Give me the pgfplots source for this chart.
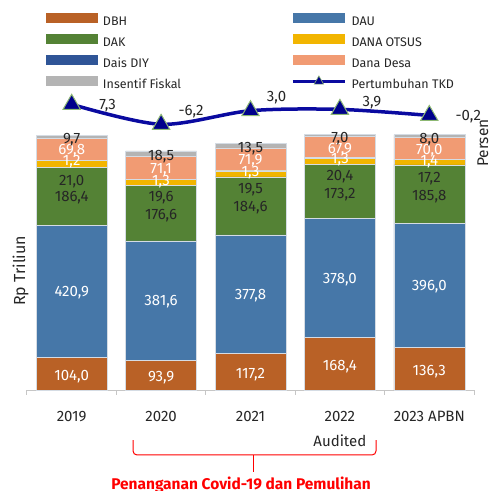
\documentclass[border=0pt]{standalone}
\usepackage{fontspec}
\setmainfont{Fira Sans}
\usepackage{pgfplots}
\pgfplotsset{compat=1.18}
\definecolor{cDBH}{HTML}{B96126}
\definecolor{cDAU}{HTML}{4677A8}
\definecolor{cDAK}{HTML}{548235}
\definecolor{cOTS}{HTML}{F2B500}
\definecolor{cDAIS}{HTML}{2F5597}
\definecolor{cDESA}{HTML}{F19B73}
\definecolor{cINS}{HTML}{B4B4B4}
\definecolor{lineblue}{HTML}{0A0AA0}
\definecolor{mblue}{HTML}{00008B}
\definecolor{medge}{HTML}{8DB873}
\definecolor{txt}{HTML}{262626}
\definecolor{edgec}{HTML}{D5DCE4}
\newcommand\fs[1]{\fontsize{#1}{#1}\selectfont}
\pgfplotsset{
  barleg/.style={legend image code/.code={\fill[##1,draw=none] (0pt,-0.5pt) rectangle (52pt,9.5pt);}},
  tkdleg/.style={legend image code/.code={%
    \draw[lineblue, line width=3.5pt] (0pt,4.5pt) -- (52pt,4.5pt);
    \filldraw[fill=mblue, draw=medge, line width=0.6pt]
      ([shift={(90:5.5pt)}]26pt,4.5pt) -- ([shift={(210:5.5pt)}]26pt,4.5pt) -- ([shift={(330:5.5pt)}]26pt,4.5pt) -- cycle;}},
  frame/.style={at={(0pt,0pt)}, anchor=south west, scale only axis,
    width=447pt, height=382pt, xmin=-0.5, xmax=4.5},
}
\tikzset{
  lbl/.style={font=\fs{15}, inner sep=0pt, text depth=0pt, anchor=center},
  wl/.style={lbl, text=white},
  bl/.style={lbl, text=txt},
}
\begin{document}
\begin{tikzpicture}
\path[use as bounding box] (-27pt,-100pt) rectangle (465pt,390pt);
\begin{axis}[
  frame, ymin=0, ymax=1218.5,
  ybar stacked, bar width=71pt,
  axis y line=none, axis x line*=bottom,
  x axis line style={draw=gray!45, line width=1pt},
  xtick={0,1,2,3,4},
  xticklabels={2019,2020,2021,2022,2023 APBN},
  major tick length=0pt,
  minor xtick={-0.5,0.5,1.5,2.5,3.5,4.5},
  minor tick length=4.5pt, tick align=outside,
  tick style={draw=gray!45, line width=1pt},
  xticklabel style={font=\fs{15}, text=txt, anchor=center, inner sep=0pt, text depth=0pt, yshift=-26pt},
  clip=false,
  every axis plot/.append style={draw=edgec, line width=0.6pt},
  legend columns=2,
  legend cell align=left,
  legend style={at={(axis description cs:0.0425,0.9864)}, anchor=north west,
    draw=none, fill=none, inner sep=0pt, outer sep=0pt,
    font=\fs{12.5}, text=txt, row sep=3.3pt,
    nodes={inner sep=2pt, text height=9pt, text depth=3pt},
    /tikz/every odd column/.style={column sep=3pt},
    /tikz/column 2/.style={column sep=108pt}},
]
\addplot[fill=cDBH, barleg] coordinates {(0,104.0) (1,93.9) (2,117.2) (3,168.4) (4,136.3)};
\addlegendentry{DBH}
\addplot[fill=cDAU, barleg] coordinates {(0,420.9) (1,381.6) (2,377.8) (3,378.0) (4,396.0)};
\addlegendentry{DAU}
\addplot[fill=cDAK, barleg] coordinates {(0,186.4) (1,176.6) (2,184.6) (3,173.2) (4,185.8)};
\addlegendentry{DAK}
\addplot[fill=cOTS, barleg] coordinates {(0,21.0) (1,19.6) (2,19.5) (3,20.4) (4,17.2)};
\addlegendentry{DANA OTSUS}
\addplot[fill=cDAIS, barleg] coordinates {(0,1.2) (1,1.3) (2,1.3) (3,1.3) (4,1.4)};
\addlegendentry{Dais DIY}
\addplot[fill=cDESA, barleg] coordinates {(0,69.8) (1,71.1) (2,71.9) (3,67.9) (4,70.0)};
\addlegendentry{Dana Desa}
\addplot[fill=cINS, barleg] coordinates {(0,9.7) (1,18.5) (2,13.5) (3,7.0) (4,8.0)};
\addlegendentry{Insentif Fiskal}
\addlegendimage{tkdleg}
\addlegendentry{Pertumbuhan TKD}
\end{axis}
% labels over the bars (same scale as the bar axis)
\begin{axis}[frame, ymin=0, ymax=1218.5, hide axis, clip=false]
% 2019
\node[wl] at (axis cs:0,52) [yshift=-1.5pt] {104,0};
\node[wl] at (axis cs:0,314.45) {420,9};
\node[bl] at (axis cs:0,616.6) {186,4};
\node[bl] at (axis cs:0,669.9) {21,0};
\node[wl] at (axis cs:0,733.7) {1,2};
\node[wl] at (axis cs:0,768.7) {69,8};
\node[bl] at (axis cs:0,802.9) {9,7};
% 2020
\node[wl] at (axis cs:1,46.95) [yshift=-1.5pt] {93,9};
\node[wl] at (axis cs:1,284.7) {381,6};
\node[bl] at (axis cs:1,560.4) {176,6};
\node[bl] at (axis cs:1,616.6) {19,6};
\node[wl] at (axis cs:1,669.9) {1,3};
\node[wl] at (axis cs:1,707.2) {71,1};
\node[bl] at (axis cs:1,747.4) {18,5};
% 2021
\node[wl] at (axis cs:2,58.6) [yshift=-1.5pt] {117,2};
\node[wl] at (axis cs:2,306.1) {377,8};
\node[bl] at (axis cs:2,584.7) {184,6};
\node[bl] at (axis cs:2,643.4) {19,5};
\node[wl] at (axis cs:2,696.3) {1,3};
\node[wl] at (axis cs:2,736.8) {71,9};
\node[bl] at (axis cs:2,772.9) {13,5};
% 2022
\node[wl] at (axis cs:3,84.2) [yshift=-1.5pt] {168,4};
\node[wl] at (axis cs:3,357.4) {378,0};
\node[bl] at (axis cs:3,627.4) {173,2};
\node[bl] at (axis cs:3,683.6) {20,4};
\node[wl] at (axis cs:3,739.1) {1,3};
\node[wl] at (axis cs:3,771.0) {67,9};
\node[bl] at (axis cs:3,804.8) {7,0};
% 2023
\node[wl] at (axis cs:4,68.15) [yshift=-1.5pt] {136,3};
\node[wl] at (axis cs:4,334.3) {396,0};
\node[bl] at (axis cs:4,622.0) {185,8};
\node[bl] at (axis cs:4,678.5) {17,2};
\node[wl] at (axis cs:4,733.7) {1,4};
\node[wl] at (axis cs:4,768.7) {70,0};
\node[bl] at (axis cs:4,802.9) {8,0};
% axis titles and notes
\node[font=\fs{16}, text=txt, rotate=90, anchor=center, inner sep=0pt] at (axis cs:-0.5727,379.6) {Rp Triliun};
\node[font=\fs{15.5}, text=txt, rotate=90, anchor=center, inner sep=0pt] at (axis cs:4.6,787.9) {Persen};
\node[font=\fs{15}, text=txt, anchor=center, inner sep=0pt, text depth=0pt] at (axis cs:3,0) [yshift=-51pt] {Audited};
\draw[red, line width=1pt, rounded corners=4pt] (axis cs:0.686,-159.5) -- (axis cs:0.686,-207.3) -- (axis cs:3.404,-207.3) -- (axis cs:3.404,-159.5);
\draw[red, line width=1pt] (axis cs:2.039,-207.3) -- (axis cs:2.039,-261.6);
\node[font=\fs{15.5}\bfseries, text=red, anchor=center, inner sep=0pt, text depth=0pt] at (axis cs:1.894,-296) {Penanganan Covid-19 dan Pemulihan};
\end{axis}
\begin{axis}[frame, ymin=-185.7, ymax=72.4, hide axis, clip=false]
\addplot[color=lineblue, line width=3.5pt, smooth, mark=triangle*, mark size=10pt,
  mark options={fill=mblue, draw=medge, line width=1pt}]
  coordinates {(0,7.3) (1,-6.2) (2,3.0) (3,3.9) (4,-0.2)};
\node[bl] at (axis cs:0,7.3) [xshift=36pt] {7,3};
\node[bl] at (axis cs:1,-6.2) [xshift=30pt, yshift=14pt] {-6,2};
\node[bl] at (axis cs:2,3.0) [xshift=26pt, yshift=14pt] {3,0};
\node[bl] at (axis cs:3,3.9) [xshift=32pt, yshift=8pt] {3,9};
\node[bl] at (axis cs:4,-0.2) [xshift=39pt, yshift=0.5pt] {-0,2};
\end{axis}
\end{tikzpicture}
\end{document}
